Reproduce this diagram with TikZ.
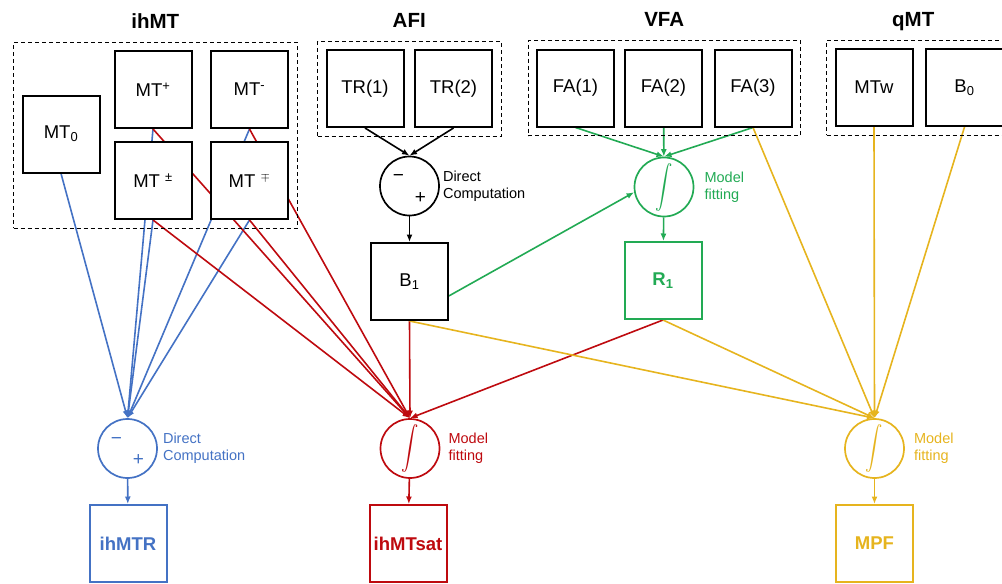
\documentclass[tikz,border=0pt]{standalone}
\usepackage{fontspec}
\setmainfont{Liberation Sans}
\usepackage{amsmath}
\usepackage{tikz}
\usetikzlibrary{arrows.meta,backgrounds,positioning,fit}
\definecolor{ihblue}{RGB}{68,114,196}
\definecolor{ihred}{RGB}{190,10,15}
\definecolor{ihgreen}{RGB}{34,170,84}
\definecolor{ihgold}{RGB}{230,180,30}
\newcommand{\diffsign}{\smash{\raisebox{4.5pt}{\makebox[0pt]{−}}}\hspace{22pt}\smash{\raisebox{-17pt}{\makebox[0pt]{+}}}}
\newcommand{\fitsign}{\scalebox{1}[1.25]{$\displaystyle\int$}}

\begin{document}
\begin{tikzpicture}[x=1pt,y=-1pt,
  box/.style={draw,line width=2pt,fill=white,minimum size=77pt,inner sep=0pt,font=\fontsize{18.5}{20}\selectfont},
  res/.style={box,font=\fontsize{18.5}{20}\selectfont\bfseries},
  op/.style={draw,circle,line width=1.7pt,fill=white,minimum size=59pt,inner sep=0pt,font=\fontsize{19}{20}\selectfont},
  tint/.style={draw=#1,text=#1},
  grp/.style={draw,dash pattern=on 4pt off 3pt,line width=0.9pt,inner sep=8pt},
  ttl/.style={font=\fontsize{20.5}{24}\selectfont\bfseries,text height=15pt,text depth=4pt,inner sep=2pt},
  note/.style={align=left,font=\fontsize{14.5}{17}\selectfont,inner sep=1pt},
  link/.style={line width=1.6pt,-{Latex[length=7.5pt,width=6pt]}}
]
\useasboundingbox (0,0) rectangle (1002,584);

\node[box] (mtz) at (61,134) {MT\textsubscript{0}};
\node[box] (mtp) at (153,89.5) {MT\textsuperscript{+}};
\node[box] (mtm) at (249.5,89.5) {MT\textsuperscript{-}};
\node[box] (mtpm) at (153,180.5) {MT \textsuperscript{±}};
\node[box] (mtmp) at (249.5,180.5) {MT \textsuperscript{$\mp$}};

\node[box] (tra) at (365,88.5) {TR(1)};
\node[box] (trb) at (453.5,88.5) {TR(2)};
\node[box] (faa) at (575.5,88) {FA(1)};
\node[box] (fab) at (663.5,88) {FA(2)};
\node[box] (fac) at (753,88) {FA(3)};
\node[box] (mtw) at (874,87.5) {MTw};
\node[box] (bz) at (964.5,87.5) {B\textsubscript{0}};

\node[grp,fit=(mtz)(mtp)(mtm)(mtpm)(mtmp)] (ihmtgrp) {};
\node[grp,fit=(tra)(trb)] (afigrp) {};
\node[grp,fit=(faa)(fab)(fac)] (vfagrp) {};
\node[grp,fit=(mtw)(bz)] (qmtgrp) {};
\node[ttl,above=7pt of ihmtgrp] (ihmtttl) {ihMT};
\node[ttl,above=7pt of afigrp] (afittl) {AFI};
\node[ttl,above=7pt of vfagrp] (vfattl) {VFA};
\node[ttl,above=7pt of qmtgrp,xshift=-6pt] (qmtttl) {qMT};

\node[op] (afi) at (409.5,186) {\diffsign};
\node[note,right=2pt of afi] (afinote) {Direct\\Computation};
\node[box] (bone) at (409.5,281.5) {B\textsubscript{1}};
\node[op,tint=ihgreen] (vfa) at (664,187) {\fitsign};
\node[note,text=ihgreen,right=9pt of vfa] (vfanote) {Model\\fitting};
\node[res,tint=ihgreen] (rone) at (663,280.5) {R\textsubscript{1}};

\node[op,tint=ihblue] (ratio) at (127.5,448.5) {\diffsign};
\node[note,text=ihblue,right=4pt of ratio] (rationote) {Direct\\Computation};
\node[res,tint=ihblue] (ihmtr) at (128,543.5) {ihMTR};
\node[op,tint=ihred] (satfit) at (410,448.5) {\fitsign};
\node[note,text=ihred,right=7pt of satfit] (satnote) {Model\\fitting};
\node[res,tint=ihred] (ihmtsat) at (408,543.5) {ihMTsat};
\node[op,tint=ihgold] (mpffit) at (874.5,448.5) {\fitsign};
\node[note,text=ihgold,right=8pt of mpffit] (mpfnote) {Model\\fitting};
\node[res,tint=ihgold] (mpf) at (874.5,543.5) {MPF};

\begin{scope}[on background layer]
\draw[link] (tra.south) -- (afi.north);
\draw[link] (trb.south) -- (afi.north);
\draw[link] (afi) -- (bone);

\begin{scope}[ihgreen]
\draw[link] (faa.south) -- (vfa.north);
\draw[link] (fab) -- (vfa);
\draw[link] (fac.south) -- (vfa.north);
\draw[link] (bone.-20) -- (vfa.190);
\draw[link] (vfa) -- (rone);
\end{scope}

\begin{scope}[ihblue]
\draw[link] (mtz.south) -- (ratio.north);
\draw[link] (mtp.south) -- (ratio.north);
\draw[link] (mtm.south) -- (ratio.north);
\draw[link] (mtpm.south) -- (ratio.north);
\draw[link] (mtmp.south) -- (ratio.north);
\draw[link] (ratio) -- (ihmtr);
\end{scope}

\begin{scope}[ihred]
\draw[link] (mtp.south) -- (satfit.north);
\draw[link] (mtm.south) -- (satfit.north);
\draw[link] (mtpm.south) -- (satfit.north);
\draw[link] (mtmp.south) -- (satfit.north);
\draw[link] (bone.south) -- (satfit.north);
\draw[link] (rone.south) -- (satfit.north);
\draw[link] (satfit) -- (ihmtsat);
\end{scope}

\begin{scope}[ihgold]
\draw[link] (fac.south) -- (mpffit.north);
\draw[link] (bone.south) -- (mpffit.north);
\draw[link] (rone.south) -- (mpffit.north);
\draw[link] (mtw.south) -- (mpffit.north);
\draw[link] (bz.south) -- (mpffit.north);
\draw[link] (mpffit) -- (mpf);
\end{scope}
\end{scope}
\end{tikzpicture}
\end{document}
